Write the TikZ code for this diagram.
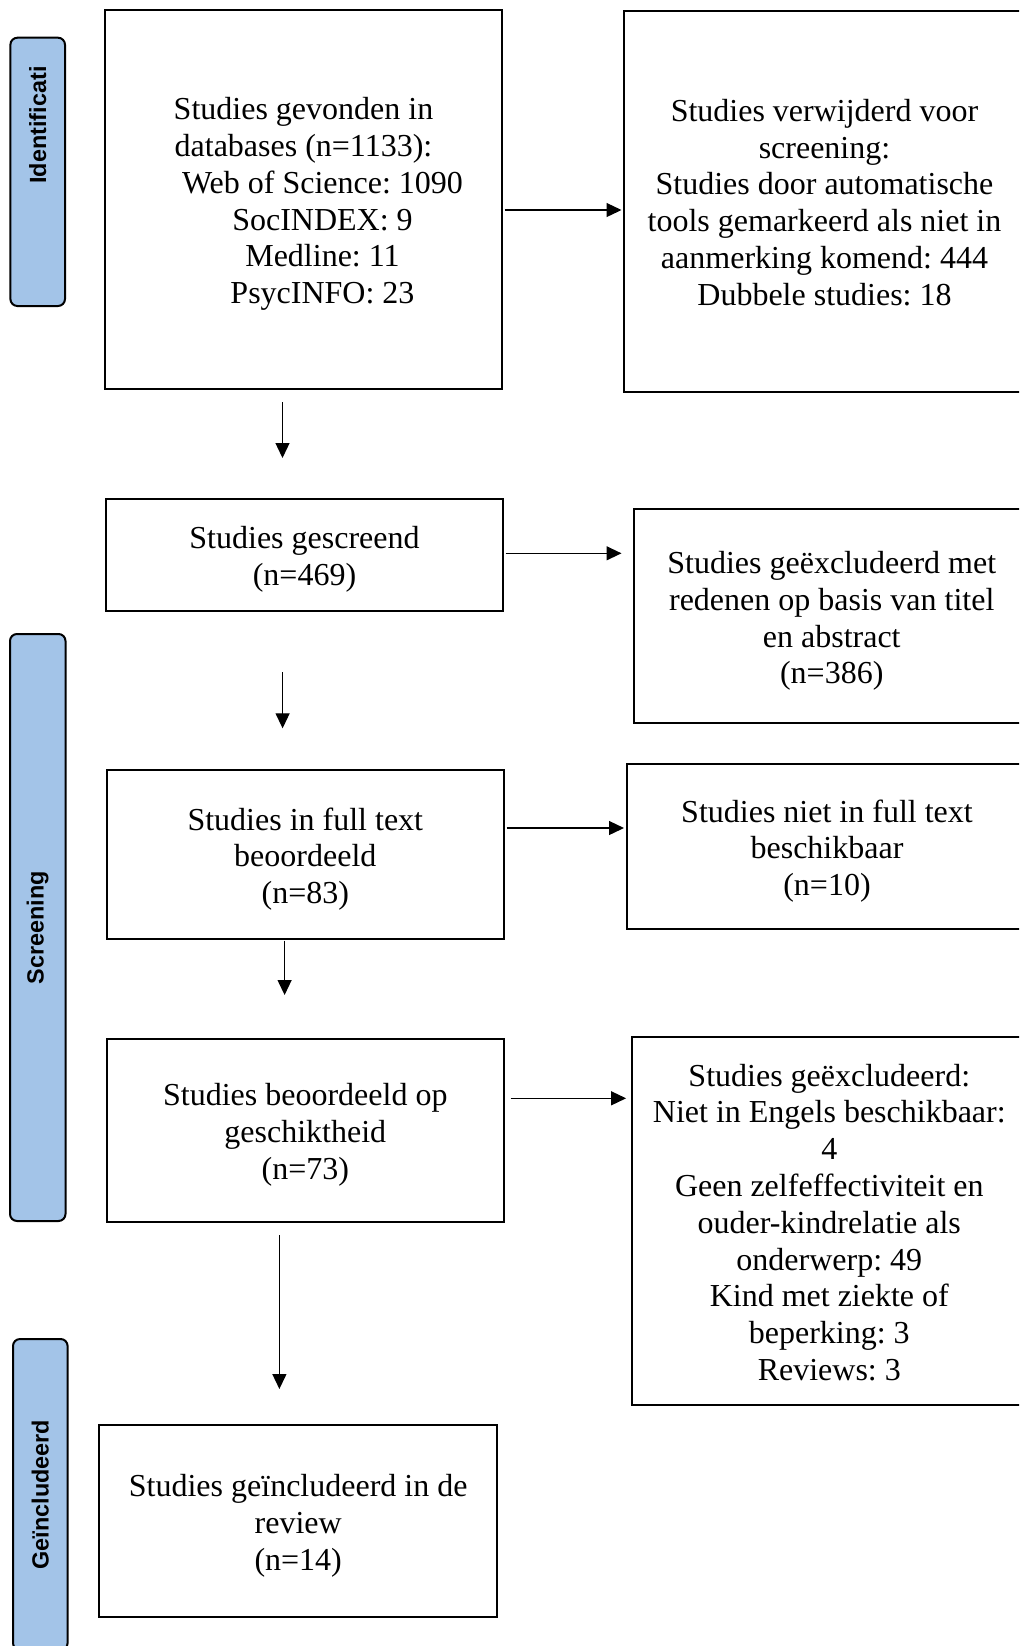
\documentclass[tikz,border=0pt]{standalone}
\usepackage{fontspec}
\setmainfont{Liberation Serif}
\newfontfamily\labfont{Liberation Sans}
\usetikzlibrary{arrows.meta,calc}
\definecolor{labblue}{HTML}{A3C4E8}
\frenchspacing
\begin{document}
\begin{tikzpicture}[x=0.5pt,y=-0.5pt,
  box/.style={draw=black,line width=1pt,rectangle,inner sep=0pt},
  txt/.style={inner sep=0pt,align=center,font=\fontsize{16}{18.4}\selectfont},
  lab/.style={draw=black,line width=1pt,fill=labblue,rounded corners=3.5pt,inner sep=0pt},
  labtext/.style={rotate=90,inner sep=0pt,font=\labfont\bfseries\fontsize{11.7}{14}\selectfont},
  arr/.style={line width=0.65pt,-{Triangle[length=7.5pt,width=7pt]}}]
\useasboundingbox (0,0) rectangle (1019,1646);
\clip (0,0) rectangle (1019,1646);

% phase labels
\node[lab,minimum width=27.3pt,minimum height=134.15pt] (L1) at (37.7,171.85) {};
\node[labtext] (T1) at (37.7,125) {Identificati};
\node[lab,minimum width=27.75pt,minimum height=293.5pt] (L2) at (37.75,927.5) {};
\node[labtext] (T2) at (L2.center) {Screening};
\node[lab,minimum width=27.3pt,minimum height=155.5pt] (L3) at (40.3,1494.5) {};
\node[labtext] (T3) at (L3.center) {Geïncludeerd};

% left column
\node[box,minimum width=198.5pt,minimum height=189.5pt] (b1) at (303.5,199.5) {};
\node[txt] (b1t) at ($(b1.center)+(0,4.5)$)
  {Studies gevonden in\\databases (n=1133):\\\hspace*{19pt}Web of Science: 1090\\\hspace*{19pt}SocINDEX: 9\\\hspace*{19pt}Medline: 11\\\hspace*{19pt}PsycINFO: 23};
\node[box,minimum width=198.5pt,minimum height=56pt] (b2) at (304.5,555) {};
\node[txt] (b2t) at ($(b2.center)+(0,4.5)$) {Studies gescreend\\(n=469)};
\node[box,minimum width=198.7pt,minimum height=84.5pt] (b3) at (305.3,854.5) {};
\node[txt] (b3t) at ($(b3.center)+(0,4.5)$) {Studies in full text\\beoordeeld\\(n=83)};
\node[box,minimum width=198.7pt,minimum height=91.5pt] (b4) at (305.3,1130.5) {};
\node[txt] (b4t) at ($(b4.center)+(0,4)$) {Studies beoordeeld op\\geschiktheid\\(n=73)};
\node[box,minimum width=198.8pt,minimum height=96pt] (b5) at (298.2,1521) {};
\node[txt] (b5t) at ($(b5.center)+(0,5)$) {Studies geïncludeerd in de\\review\\(n=14)};

% right column
\node[box,minimum width=200.5pt,minimum height=190.5pt] (r1) at (824.5,201.5) {};
\node[txt] (r1t) at ($(r1.center)+(0,1)$)
  {Studies verwijderd voor\\screening:\\Studies door automatische\\tools gemarkeerd als niet in\\aanmerking komend: 444\\Dubbele studies: 18};
\node[box,minimum width=198.25pt,minimum height=107pt] (r2) at (831.75,616) {};
\node[txt] (r2t) at ($(r2.center)+(0,5)$)
  {Studies geëxcludeerd met\\redenen op basis van titel\\en abstract\\(n=386)};
\node[box,minimum width=200pt,minimum height=82.5pt] (r3) at (827,846.5) {};
\node[txt] (r3t) at ($(r3.center)+(0,4.5)$) {Studies niet in full text\\beschikbaar\\(n=10)};
\node[box,minimum width=197.7pt,minimum height=184pt] (r4) at (829.3,1221) {};
\node[txt] (r4t) at ($(r4.center)+(0,1.5)$)
  {Studies geëxcludeerd:\\Niet in Engels beschikbaar:\\4\\Geen zelfeffectiviteit en\\ouder-kindrelatie als\\onderwerp: 49\\Kind met ziekte of\\beperking: 3\\Reviews: 3};

% horizontal arrows
\draw[arr] ($(b1.east |- 0,210)+(1.5,0)$) -- ($(r1.west |- 0,210)+(-1.5,0)$);
\draw[arr] ($(b2.east |- 0,553.3)+(1.5,0)$) -- ($(r2.west |- 0,553.3)+(-11,0)$);
\draw[arr] ($(b3.east |- 0,828)+(1.5,0)$) -- ($(r3.west |- 0,828)+(-2,0)$);
\draw[arr] ($(b4.east |- 0,1098.3)+(5.5,0)$) -- ($(r4.west |- 0,1098.3)+(-4.5,0)$);

% vertical arrows
\draw[arr] ($(b1.south -| 282.5,0)+(0,12.4)$) -- ($(b2.north -| 282.5,0)+(0,-40)$);
\draw[arr] ($(b2.south -| 282.6,0)+(0,60)$) -- ($(b3.north -| 282.6,0)+(0,-40.7)$);
\draw[arr] ($(b3.south -| 284.6,0)+(0,0.5)$) -- ($(b4.north -| 284.6,0)+(0,-43)$);
\draw[arr] ($(b4.south -| 279.4,0)+(0,12)$) -- ($(b5.north -| 279.4,0)+(0,-35)$);
\end{tikzpicture}
\end{document}
